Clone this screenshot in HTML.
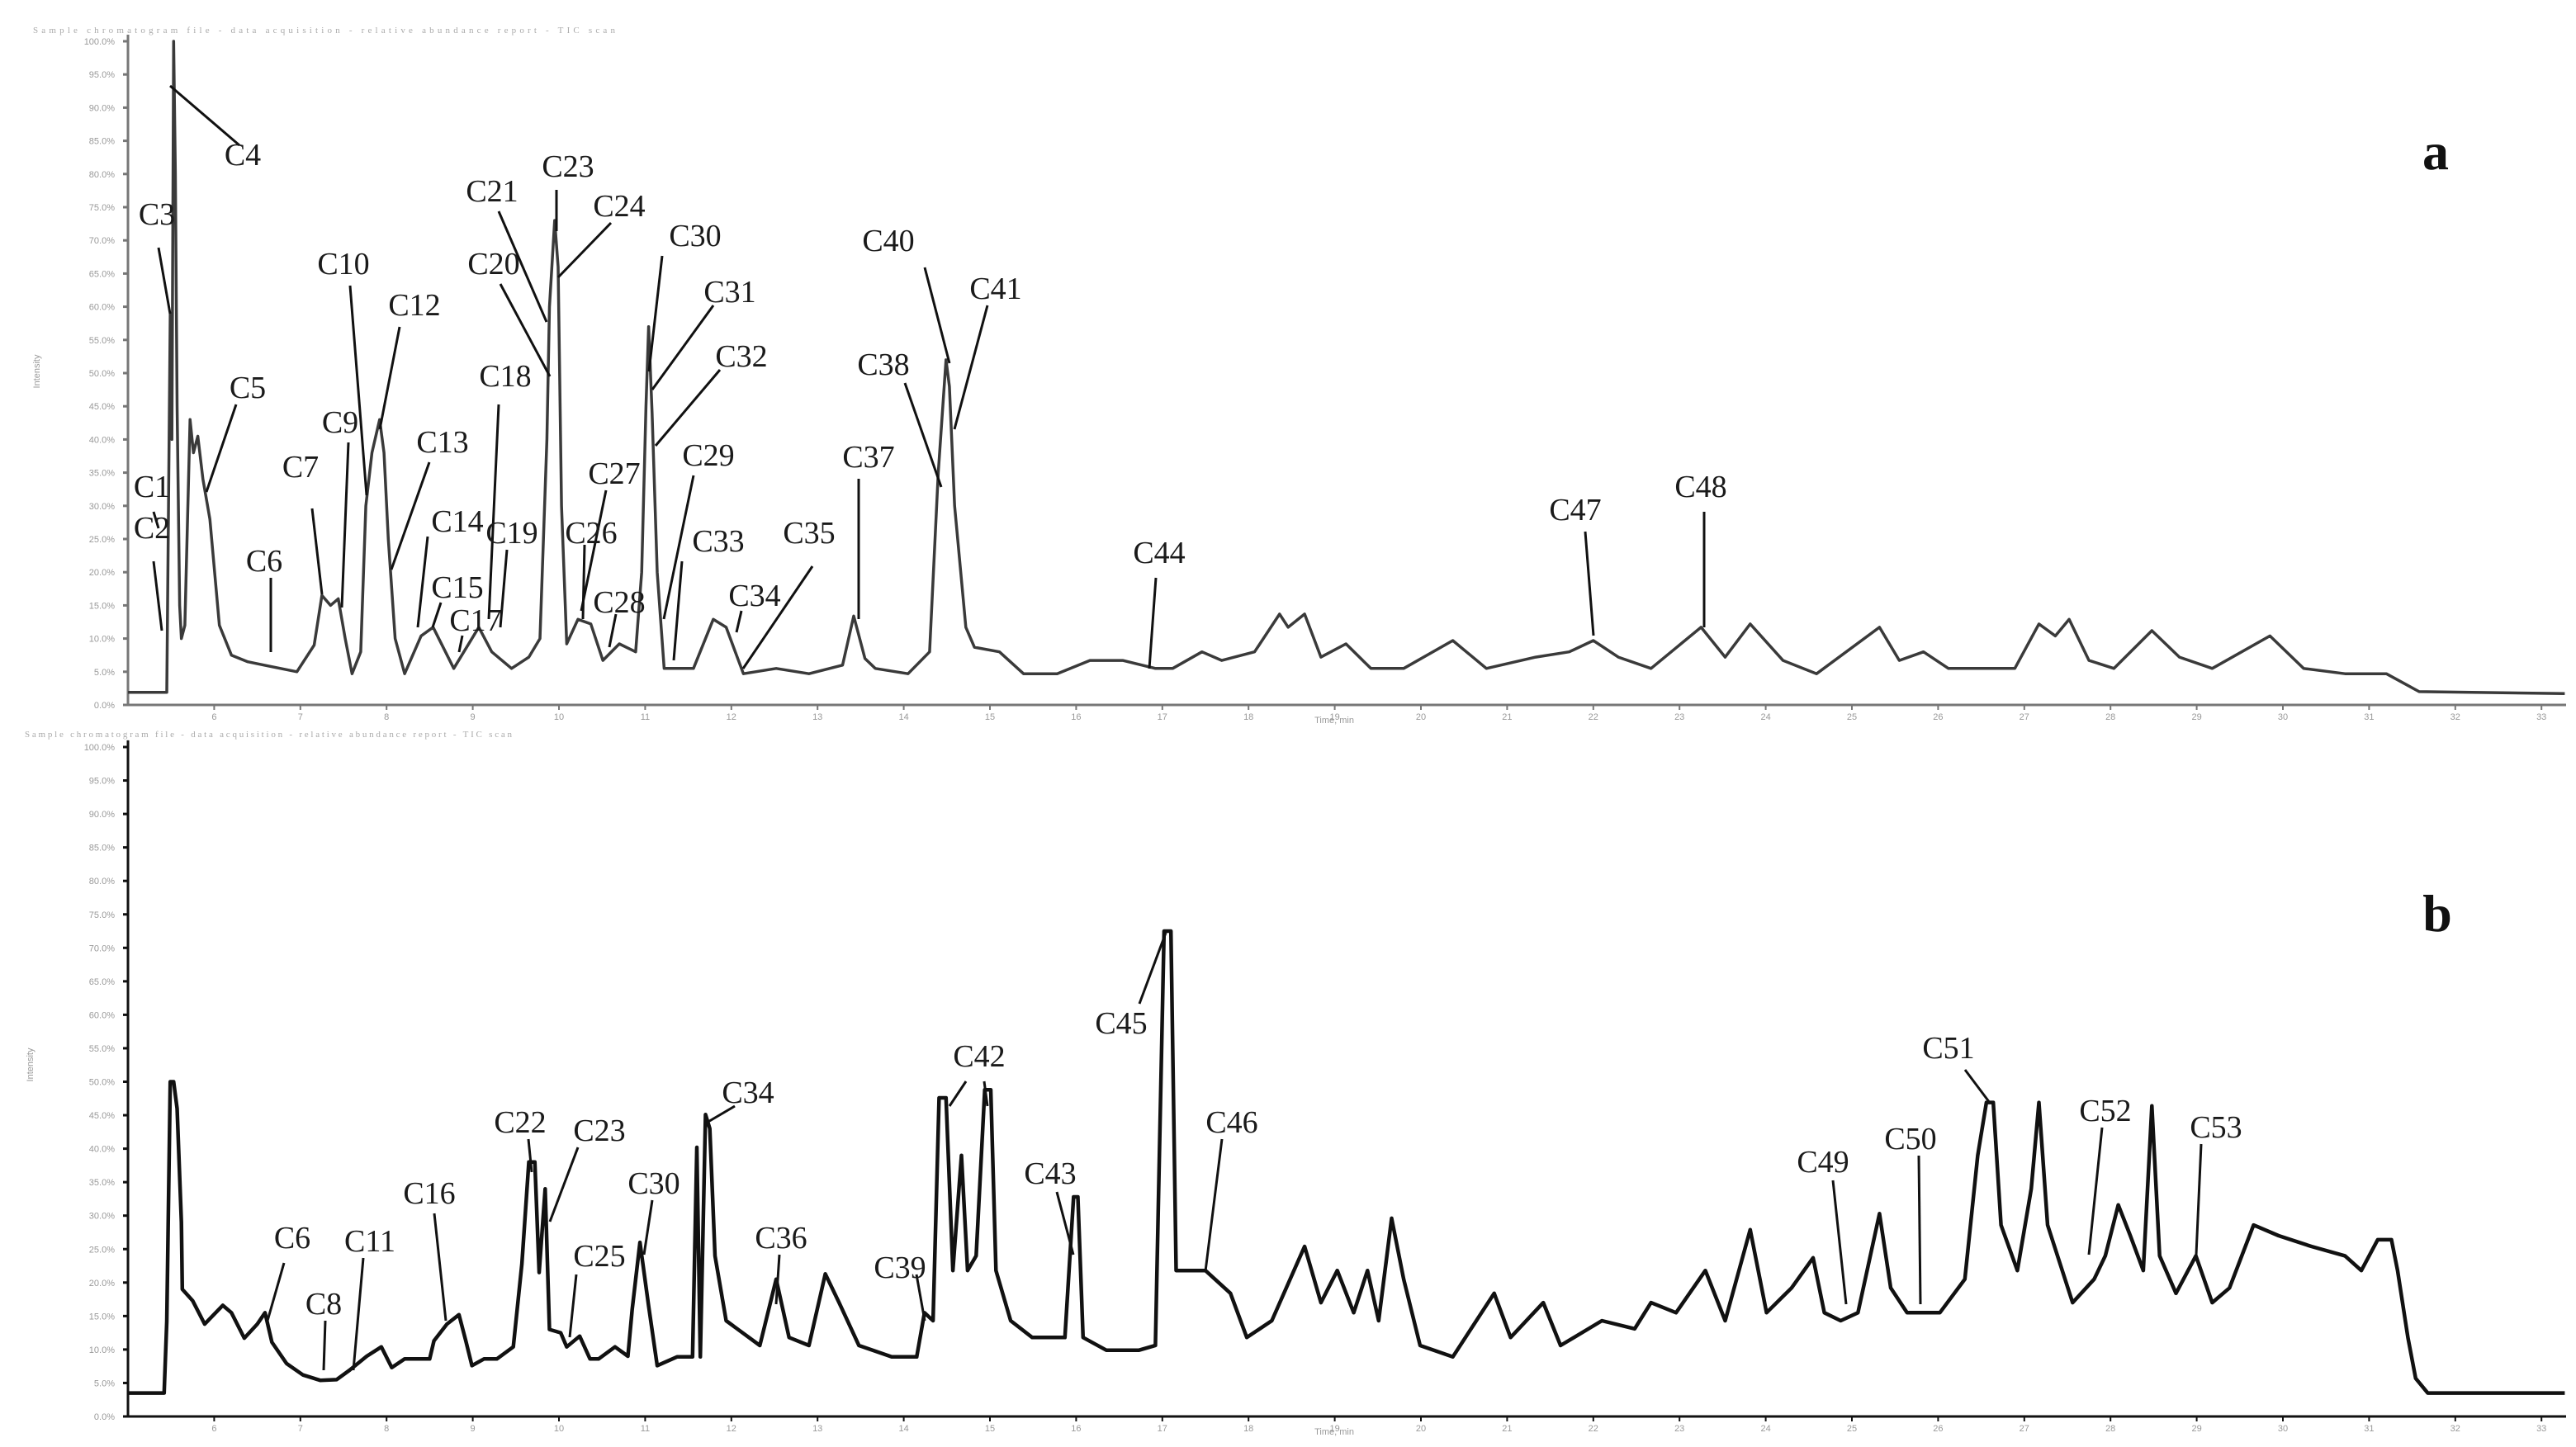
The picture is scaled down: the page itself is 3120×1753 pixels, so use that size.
<!DOCTYPE html>
<html><head><meta charset="utf-8">
<style>
html,body{margin:0;padding:0;background:#fff;}
svg{display:block;}
text{font-family:"Liberation Serif",serif;}
.lbl{font-size:38px;fill:#1a1a1a;}
.tk{font-family:"Liberation Sans",sans-serif;font-size:11px;fill:#999;}
</style></head>
<body>
<svg id="chart" width="3120" height="1753" viewBox="0 0 3120 1753" xmlns="http://www.w3.org/2000/svg">
<g id="panelA"></g>
<g id="panelB"></g>
</svg>
<script>
// Panel a data: retention time (min from axis origin) and relative abundance (%)
var timesA=[0,0.45,0.47,0.49,0.51,0.53,0.55,0.57,0.60,0.62,0.66,0.72,0.76,0.81,0.87,0.95,1.06,1.20,1.39,1.58,1.96,2.16,2.25,2.35,2.44,2.52,2.60,2.70,2.76,2.83,2.92,2.97,3.02,3.10,3.21,3.40,3.54,3.78,4.07,4.22,4.45,4.65,4.78,4.86,4.89,4.95,4.99,5.03,5.09,5.22,5.37,5.51,5.70,5.89,5.96,6.01,6.04,6.08,6.14,6.22,6.56,6.79,6.94,7.14,7.52,7.90,8.29,8.42,8.55,8.67,9.05,9.30,9.40,9.49,9.53,9.59,9.72,9.82,10.11,10.39,10.78,11.16,11.54,11.92,12.12,12.46,12.69,13.07,13.36,13.46,13.65,13.84,14.13,14.42,14.80,15.37,15.76,16.33,16.72,17.00,17.29,17.67,18.25,18.53,18.82,19.20,19.59,20.32,20.55,20.83,21.12,21.89,22.17,22.36,22.52,22.75,23.04,23.48,23.80,24.18,24.85,25.24,25.72,26.20,26.58,28.27];
var valuesA=[1.9,1.9,30,59,40,100,80,45,15,10,12,43,38,40.5,34,28,12,7.5,6.5,6.0,5.0,9,16.5,15,16,10,4.7,8,30,38,43,38,25,10,4.7,10.4,11.7,5.5,11.7,8,5.5,7.2,10,40,60,73,66,30,9.2,12.9,12.2,6.7,9.2,8,20,45,57,44,20,5.5,5.5,12.9,11.7,4.7,5.5,4.7,6,13.4,7,5.5,4.7,8,35,52,48,30,11.7,8.7,8,4.7,4.7,6.7,6.7,5.5,5.5,8,6.7,8,13.7,11.7,13.7,7.2,9.2,5.5,5.5,9.7,5.5,7.2,8,9.7,7.2,5.5,11.7,7.2,12.2,6.7,4.7,11.7,6.7,8,5.5,5.5,12.2,10.4,12.9,6.7,5.5,11.2,7.2,5.5,10.4,5.5,4.7,4.7,2.0,1.7];
// Panel b data
var timesB=[0,0.42,0.45,0.49,0.53,0.57,0.62,0.63,0.75,0.89,1.10,1.20,1.35,1.50,1.59,1.67,1.84,2.03,2.23,2.42,2.57,2.77,2.94,3.06,3.21,3.40,3.50,3.55,3.70,3.84,3.92,3.99,4.13,4.28,4.47,4.57,4.65,4.72,4.77,4.84,4.89,5.02,5.09,5.24,5.36,5.46,5.65,5.80,5.85,5.94,6.04,6.14,6.37,6.55,6.60,6.64,6.70,6.75,6.81,6.94,7.33,7.52,7.67,7.90,8.09,8.25,8.48,8.86,9.15,9.24,9.34,9.41,9.49,9.57,9.67,9.74,9.84,9.94,10.01,10.07,10.24,10.49,10.87,10.97,11.02,11.08,11.35,11.73,11.92,12.02,12.10,12.16,12.50,12.79,12.98,13.27,13.65,13.84,14.03,14.22,14.38,14.51,14.66,14.80,14.99,15.37,15.85,16.04,16.42,16.62,17.10,17.48,17.67,17.96,18.30,18.53,18.82,19.01,19.30,19.55,19.68,19.87,20.07,20.32,20.45,20.64,21.02,21.31,21.46,21.56,21.64,21.73,21.92,22.08,22.17,22.27,22.56,22.81,22.94,23.09,23.23,23.38,23.48,23.57,23.76,23.99,24.18,24.38,24.66,24.95,25.33,25.72,25.91,26.10,26.26,26.33,26.45,26.54,26.68,28.27];
var valuesB=[3.5,3.5,14.2,50,50,46,29,19,17.3,13.8,16.6,15.5,11.7,13.8,15.5,11.1,7.9,6.2,5.4,5.5,6.9,9.0,10.4,7.3,8.6,8.6,8.6,11.3,13.8,15.2,11.3,7.6,8.6,8.6,10.4,22.8,38,38,21.5,34,13,12.5,10.4,12,8.6,8.6,10.4,9,16,26,16.5,7.6,8.9,8.9,40.2,8.9,45.1,43,24,14.3,10.6,20.5,11.8,10.6,21.3,17,10.6,8.9,8.9,15.5,14.3,47.6,47.6,21.8,39,21.8,24,48.8,48.8,21.8,14.3,11.8,11.8,32.8,32.8,11.8,9.9,9.9,10.6,72.5,72.5,21.8,21.8,18.4,11.8,14.3,25.4,17,21.8,15.5,21.8,14.3,29.6,20.5,10.6,8.9,18.4,11.8,17,10.6,14.3,13.1,17,15.5,21.8,14.3,27.9,15.5,19.2,23.7,15.5,14.3,15.5,30.3,19.2,15.5,15.5,20.5,39,46.9,46.9,28.6,21.8,34,46.9,28.6,17,20.5,24,31.6,27,21.8,46.4,24,18.4,24,17,19.2,28.6,27,25.4,24,21.8,26.4,26.4,21.8,11.8,5.7,3.5,3.5];
var xTicks=[1,2,3,4,5,6,7,8,9,10,11,12,13,14,15,16,17,18,19,20,21,22,23,24,25,26,27,28];
var yTicks=[0,5,10,15,20,25,30,35,40,45,50,55,60,65,70,75,80,85,90,95,100];

var NS="http://www.w3.org/2000/svg";
function mk(parent,tag,attrs){var e=document.createElementNS(NS,tag);for(var k in attrs)e.setAttribute(k,attrs[k]);parent.appendChild(e);return e;}
function makeX(x0){return function(t){return x0+t*104.4;};}
function makeY(y0,y100){return function(v){return y0+(y100-y0)*v/100;};}

function drawPanel(g,cfg){
  var X=cfg.X,Y=cfg.Y;
  // header
  var h=mk(g,'text',{x:cfg.hx,y:cfg.hy,'font-size':11,fill:'#aaa',textLength:cfg.hw,'font-family':'Liberation Sans'});
  h.textContent='Sample chromatogram file - data acquisition - relative abundance report - TIC scan';
  
  
  // y axis
  var ax=mk(g,'line',{x1:X(0),y1:Y(101),x2:X(0),y2:Y(0),stroke:cfg.axc,'stroke-width':3});
  
  
  var bx=mk(g,'line',{x1:X(0),y1:Y(0),x2:3108,y2:Y(0),stroke:cfg.axc,'stroke-width':3});
  
  
  yTicks.forEach(function(v){
    var t=mk(g,'line',{x1:X(0)-6,y1:Y(v),x2:X(0),y2:Y(v),stroke:cfg.axc,'stroke-width':3});
    
    
    var l=mk(g,'text',{x:X(0)-16,y:Y(v)+4,'text-anchor':'end',class:'tk'});
    l.textContent=v+'.0%';
    
    
  });
  xTicks.forEach(function(v){
    var t=mk(g,'line',{x1:X(v),y1:Y(0),x2:X(v),y2:Y(0)+6,stroke:cfg.axc,'stroke-width':2});
    
    
    var l=mk(g,'text',{x:X(v),y:Y(0)+18,'text-anchor':'middle',class:'tk'});
    l.textContent=String(v+5);
    
    
  });
  var yt=mk(g,'text',{x:0,y:0,class:'tk',transform:'translate('+(cfg.ytx)+','+cfg.yty+') rotate(-90)','text-anchor':'middle'});
  yt.textContent='Intensity';
  
  
  var xt=mk(g,'text',{x:1616,y:Y(0)+22,class:'tk','text-anchor':'middle'});
  xt.textContent='Time, min';
  
  
  // trace
  var d='';
  for(var i=0;i<cfg.t.length;i++){d+=(i?'L':'M')+X(cfg.t[i]).toFixed(1)+' '+Y(cfg.v[i]).toFixed(1);}
  var p=mk(g,'path',{d:d,fill:'none',stroke:cfg.lc,'stroke-width':cfg.lw,'stroke-linejoin':'round'});
  
  
  // labels
  cfg.labels.forEach(function(L){
    var ln=mk(g,'polyline',{points:L[3],fill:'none',stroke:'#111','stroke-width':3});
    
    
    var tx=mk(g,'text',{x:L[1],y:L[2],class:'lbl','text-anchor':'middle'});
    tx.textContent=L[0];
    
    
  });
  var pl=mk(g,'text',{x:cfg.px,y:cfg.py,'font-size':64,'font-weight':'bold',fill:'#111','text-anchor':'middle'});
  pl.textContent=cfg.plabel;
  
  
}

var labelsA=[
['C4',294,200,'206,104 290,176'],['C3',190,272,'192,300 206,380'],['C1',184,602,'186,620 192,640'],['C2',184,652,'186,680 196,764'],
['C5',300,482,'286,490 250,596'],['C6',320,692,'328,700 328,790'],['C7',364,578,'378,616 390,720'],['C9',412,524,'422,536 414,736'],
['C10',416,332,'424,346 444,600'],['C12',502,382,'484,396 460,520'],['C13',536,548,'520,560 474,690'],['C14',554,644,'518,650 506,760'],
['C15',554,724,'534,730 524,760'],['C17',576,764,'560,770 556,790'],['C18',612,468,'604,490 592,750'],['C19',620,658,'614,666 606,760'],
['C20',598,332,'606,344 666,456'],['C21',596,244,'604,256 662,390'],['C23',688,214,'674,230 674,280'],['C24',750,262,'740,270 676,336'],
['C30',842,298,'802,310 786,450'],['C31',884,366,'864,370 790,472'],['C32',898,444,'872,448 794,540'],['C27',744,586,'734,594 704,740'],
['C26',716,658,'708,660 706,750'],['C28',750,742,'746,744 738,784'],['C29',858,564,'840,576 804,750'],['C33',870,668,'826,680 816,800'],
['C34',914,734,'898,740 892,766'],['C35',980,658,'984,686 900,810'],['C37',1052,566,'1040,580 1040,750'],['C38',1070,454,'1096,464 1140,590'],
['C40',1076,304,'1120,324 1150,440'],['C41',1206,362,'1196,370 1156,520'],['C44',1404,682,'1400,700 1392,810'],['C47',1908,630,'1920,644 1930,770'],
['C48',2060,602,'2064,620 2064,760']];
var labelsB=[
['C6',354,1512,'344,1530 324,1600'],['C8',392,1592,'394,1600 392,1660'],['C11',448,1516,'440,1524 428,1660'],['C16',520,1458,'526,1470 540,1600'],
['C22',630,1372,'640,1380 644,1420'],['C23',726,1382,'700,1390 666,1480'],['C25',726,1534,'698,1544 690,1620'],['C30',792,1446,'790,1454 780,1520'],
['C34',906,1336,'890,1340 856,1360'],['C36',946,1512,'944,1520 940,1580'],['C39',1090,1548,'1110,1544 1120,1600'],
['C42',1186,1292,'1170,1310 1150,1340'],['C42b',0,0,'1192,1310 1196,1340'],['C43',1272,1434,'1280,1444 1300,1520'],
['C45',1358,1252,'1380,1216 1412,1130'],['C46',1492,1372,'1480,1380 1460,1540'],['C49',2208,1420,'2220,1430 2236,1580'],
['C50',2314,1392,'2324,1400 2326,1580'],['C51',2360,1282,'2380,1296 2410,1336'],['C52',2550,1358,'2546,1366 2530,1520'],
['C53',2684,1378,'2666,1386 2660,1520']];
labelsB=labelsB.filter(function(l){return l[0]!=='C42b';});

drawPanel(document.getElementById('panelA'),{X:makeX(155),Y:makeY(854,50),t:timesA,v:valuesA,labels:labelsA,
  lc:'#3a3a3a',lw:3.5,axc:'#777',hx:40,hy:40,hw:705,ytx:48,yty:450,px:2950,py:205,plabel:'a'});
drawPanel(document.getElementById('panelB'),{X:makeX(155),Y:makeY(1716,905),t:timesB,v:valuesB,labels:labelsB,
  lc:'#111',lw:4.5,axc:'#111',hx:30,hy:893,hw:590,ytx:40,yty:1290,px:2952,py:1128,plabel:'b'});
// second leader for C42
var extra=mk(document.getElementById('panelB'),'polyline',{points:'1192,1310 1196,1340',fill:'none',stroke:'#111','stroke-width':3});


</script>
</body></html>
